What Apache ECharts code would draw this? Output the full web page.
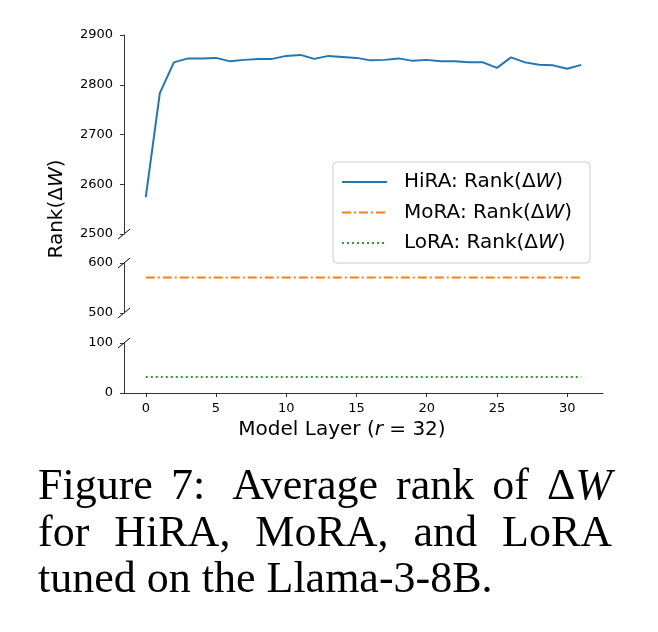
<!DOCTYPE html>
<html>
<head>
<meta charset="utf-8">
<script src="https://cdn.jsdelivr.net/npm/echarts@6/dist/echarts.min.js"></script>
<style>
  html, body { margin: 0; padding: 0; background: #fff; }
  #chart { width: 658px; height: 632px; }
</style>
</head>
<body>
<div id="chart"></div>
<script>
// data
var layers = [0, 1, 2, 3, 4, 5, 6, 7, 8, 9, 10, 11, 12, 13, 14, 15,
              16, 17, 18, 19, 20, 21, 22, 23, 24, 25, 26, 27, 28, 29, 30, 31];
var hiraRank = [2574, 2783, 2845, 2853, 2853, 2854, 2847, 2850, 2852, 2852, 2858, 2860,
                2852, 2858, 2856, 2854, 2849, 2850, 2853, 2848, 2850, 2847, 2847, 2845,
                2845, 2834, 2855, 2845, 2840, 2839, 2832, 2840];
var moraRank = [571, 571, 571, 571, 571, 571, 571, 571, 571, 571, 571, 571, 571, 571, 571, 571,
                571, 571, 571, 571, 571, 571, 571, 571, 571, 571, 571, 571, 571, 571, 571, 571];
var loraRank = [32, 32, 32, 32, 32, 32, 32, 32, 32, 32, 32, 32, 32, 32, 32, 32,
                32, 32, 32, 32, 32, 32, 32, 32, 32, 32, 32, 32, 32, 32, 32, 32];
var seriesNames = ['HiRA: Rank(ΔW)', 'MoRA: Rank(ΔW)', 'LoRA: Rank(ΔW)'];
var xTicks = [0, 5, 10, 15, 20, 25, 30];
var yRanges = [[2500, 2900], [500, 600], [0, 100]];
var captionLines = [
  ['Figure', '7:', 'Average', 'rank', 'of', 'ΔW'],
  ['for', 'HiRA,', 'MoRA,', 'and', 'LoRA'],
  ['tuned', 'on', 'the', 'Llama-3-8B.']
];

var font = 'DejaVu Sans';
var serif = 'Liberation Serif';
var axisColor = '#333';

function pairs(vals) {
  return layers.map(function (l, i) { return [l, vals[i]]; });
}

var myChart = echarts.init(document.getElementById('chart'));

// three stacked panels of a broken y axis
var grids = [
  { left: 124, width: 479, top: 35, height: 199 },
  { left: 124, width: 479, top: 263, height: 50 },
  { left: 124, width: 479, top: 343, height: 50 }
];

var xAxes = grids.map(function (g, i) {
  var bottom = i === 2;
  return {
    type: 'value', gridIndex: i, min: -1.55, max: 32.55,
    show: bottom,
    axisLine: { show: bottom, onZero: false, lineStyle: { color: axisColor, width: 1 } },
    axisTick: { show: bottom, length: 4, customValues: xTicks, lineStyle: { color: axisColor } },
    axisLabel: { show: bottom, customValues: xTicks, margin: 9, fontSize: 13, color: '#000', fontFamily: font },
    splitLine: { show: false }
  };
});

var yAxes = yRanges.map(function (r, i) {
  return {
    type: 'value', gridIndex: i, min: r[0], max: r[1], interval: 100,
    axisLine: { show: true, onZero: false, lineStyle: { color: axisColor, width: 1 } },
    axisTick: { show: true, length: 4, lineStyle: { color: axisColor } },
    axisLabel: {
      margin: 11, fontSize: 13, color: '#000', fontFamily: font,
      formatter: function (v) { return String(v); }
    },
    splitLine: { show: false }
  };
});

var option = {
  animation: false,
  backgroundColor: '#fff',
  textStyle: { fontFamily: font },
  grid: grids,
  xAxis: xAxes,
  yAxis: yAxes,
  legend: {
    data: seriesNames,
    orient: 'vertical',
    left: 333, top: 162,
    padding: [10, 18, 10, 8],
    itemWidth: 45, itemHeight: 14, itemGap: 10.5,
    itemStyle: { opacity: 0 },
    borderColor: '#ccc', borderWidth: 1, borderRadius: 4,
    backgroundColor: 'rgba(255,255,255,0.8)',
    formatter: function (name) {
      var p = name.split('W');
      return '{n|' + p[0] + '}{i|W}{n|' + p[1] + '}';
    },
    textStyle: {
      padding: [0, 0, 0, 12],
      rich: {
        n: { fontSize: 20, fontFamily: font, color: '#000', lineHeight: 20 },
        i: { fontSize: 20, fontFamily: font, fontStyle: 'italic', color: '#000', lineHeight: 20 }
      }
    }
  },
  series: [
    {
      name: seriesNames[0], type: 'line', xAxisIndex: 0, yAxisIndex: 0,
      data: pairs(hiraRank), symbol: 'none',
      lineStyle: { color: '#1f77b4', width: 2 }, itemStyle: { color: '#1f77b4' }
    },
    {
      name: seriesNames[1], type: 'line', xAxisIndex: 1, yAxisIndex: 1,
      data: pairs(moraRank), symbol: 'none',
      lineStyle: { color: '#ff7f0e', width: 2, type: [9, 3, 2, 3] }, itemStyle: { color: '#ff7f0e' }
    },
    {
      name: seriesNames[2], type: 'line', xAxisIndex: 2, yAxisIndex: 2,
      data: pairs(loraRank), symbol: 'none',
      lineStyle: { color: '#2ca02c', width: 2, type: [2, 3] }, itemStyle: { color: '#2ca02c' }
    }
  ]
};
myChart.setOption(option);

// break marks, axis titles and the caption
var graphics = [];
var spineX = myChart.convertToPixel({ xAxisIndex: 0 }, -1.55);
[[0, 2500], [1, 600], [1, 500], [2, 100]].forEach(function (b) {
  var y = myChart.convertToPixel({ yAxisIndex: b[0] }, b[1]);
  graphics.push({
    type: 'line',
    shape: { x1: spineX - 6, y1: y + 5, x2: spineX + 6, y2: y - 5 },
    style: { stroke: '#000', lineWidth: 1 }
  });
});

var richSans = {
  n: { fontSize: 20, fontFamily: font, color: '#000' },
  i: { fontSize: 20, fontFamily: font, fontStyle: 'italic', color: '#000' }
};
graphics.push({
  type: 'text', x: 57, y: 209, rotation: Math.PI / 2,
  style: { text: '{n|Rank(Δ}{i|W}{n|)}', rich: richSans, align: 'center', verticalAlign: 'middle' }
});
graphics.push({
  type: 'text', x: 342, y: 430,
  style: { text: '{n|Model Layer (}{i|r}{n| = 32)}', rich: richSans, align: 'center', verticalAlign: 'middle' }
});

// caption, justified between left and right edge
var capSize = 44, capLeft = 38, capRight = 612;
var capY = [487, 534, 580];
var ctx = document.createElement('canvas').getContext('2d');
function measure(word) {
  if (word === 'ΔW') {
    ctx.font = capSize + 'px "' + serif + '"';
    var a = ctx.measureText('Δ').width;
    ctx.font = 'italic ' + capSize + 'px "' + serif + '"';
    return a + ctx.measureText('W').width;
  }
  ctx.font = capSize + 'px "' + serif + '"';
  return ctx.measureText(word).width;
}
captionLines.forEach(function (words, li) {
  var widths = words.map(measure);
  var total = widths.reduce(function (s, w) { return s + w; }, 0);
  var weights = words.slice(0, -1).map(function (w) { return w === '7:' ? 1.5 : 1; });
  var wsum = weights.reduce(function (s, w) { return s + w; }, 0);
  var last = li === captionLines.length - 1;
  ctx.font = capSize + 'px "' + serif + '"';
  var unit = last ? ctx.measureText(' ').width : (capRight - capLeft - total) / wsum;
  var x = capLeft;
  words.forEach(function (w, k) {
    var txt = w === 'ΔW' ? '{n|Δ}{i|W}' : '{n|' + w + '}';
    graphics.push({
      type: 'text', x: x, y: capY[li],
      style: {
        text: txt, align: 'left', verticalAlign: 'middle',
        rich: {
          n: { fontSize: capSize, fontFamily: serif, color: '#000' },
          i: { fontSize: capSize, fontFamily: serif, fontStyle: 'italic', color: '#000' }
        }
      }
    });
    x += widths[k] + (k < weights.length ? unit * weights[k] : 0);
  });
});

myChart.setOption({ graphic: graphics });
</script>
</body>
</html>
